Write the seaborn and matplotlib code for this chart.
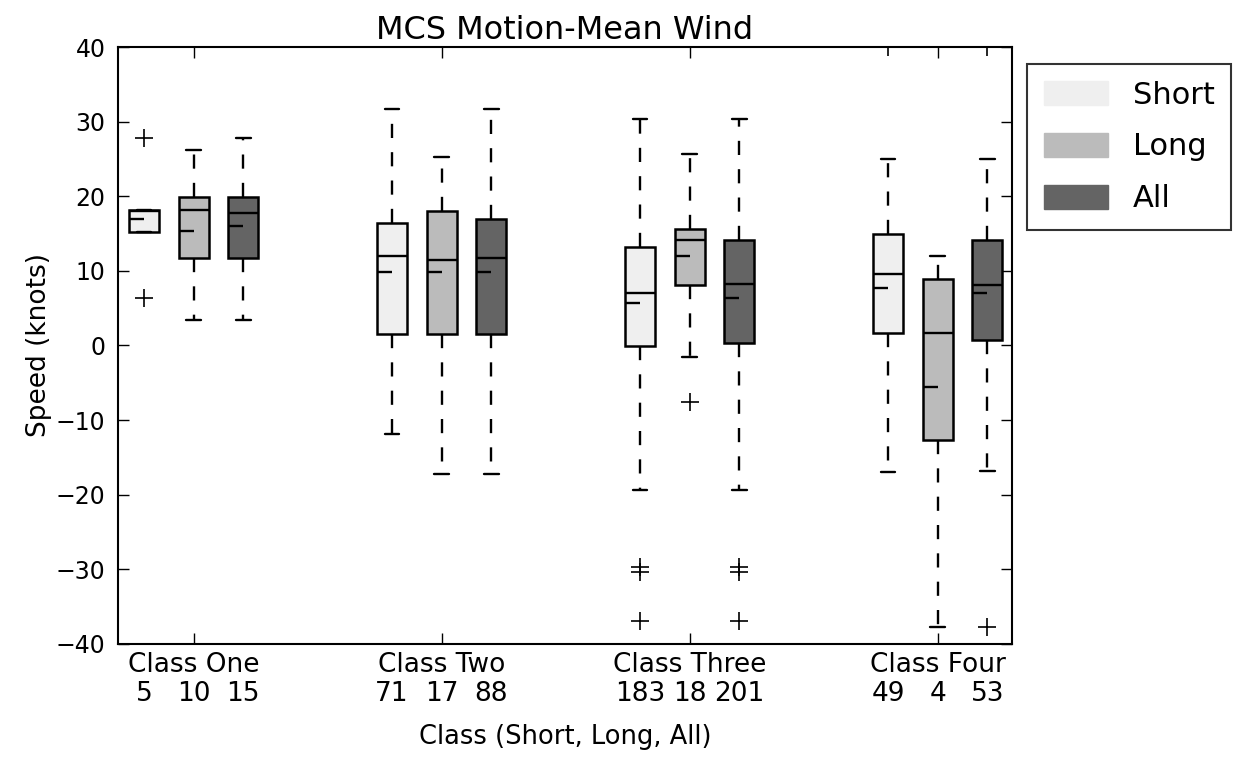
import numpy as np
import matplotlib
matplotlib.use("Agg")
import matplotlib.pyplot as plt
import matplotlib.transforms as mtransforms
from matplotlib.patches import Patch
import seaborn as sns

# ---------------------------
# Data (knots)
# ---------------------------
classes = ["Class One", "Class Two", "Class Three", "Class Four"]
groups = ["Short", "Long", "All"]
colors = ["#efefef", "#bbbbbb", "#646464"]

counts = [[5, 10, 15], [71, 17, 88], [183, 18, 201], [49, 4, 53]]

q1 = [[15.2, 11.7, 11.7], [1.6, 1.6, 1.6], [-0.1, 8.1, 0.3], [1.7, -12.7, 0.7]]
med = [[18.0, 18.1, 17.8], [12.0, 11.4, 11.7], [7.1, 14.2, 8.2], [9.6, 1.7, 8.1]]
q3 = [[18.1, 19.9, 19.9], [16.4, 18.0, 17.0], [13.2, 15.6, 14.1], [15.0, 8.9, 14.1]]
whislo = [[15.2, 3.4, 3.4], [-11.8, -17.2, -17.2], [-19.4, -1.5, -19.4], [-16.9, -37.7, -16.8]]
whishi = [[18.1, 26.2, 27.8], [31.7, 25.3, 31.7], [30.3, 25.7, 30.3], [25.0, 12.0, 25.0]]
means = [[17.0, 15.3, 16.0], [9.9, 9.9, 9.9], [5.7, 12.0, 6.4], [7.7, -5.5, 7.1]]
fliers = [
    [[27.8, 6.3], [], []],
    [[], [], []],
    [[-29.7, -30.4, -36.9], [-7.6], [-29.7, -30.4, -36.9]],
    [[40.0], [], [40.0, -37.7]],
]

# ---------------------------
# Style
# ---------------------------
sns.set_style("ticks")
plt.rcParams["font.family"] = ["DejaVu Sans"]
plt.rcParams["xtick.direction"] = "in"
plt.rcParams["ytick.direction"] = "in"
plt.rcParams["xtick.top"] = True
plt.rcParams["ytick.right"] = True
for k in ["text.color", "axes.labelcolor", "xtick.color", "ytick.color", "axes.edgecolor"]:
    plt.rcParams[k] = "black"

fig = plt.figure(figsize=(12.33, 7.57), dpi=100)
ax = fig.add_axes([0.0957, 0.1493, 0.7251, 0.7886])

centers = np.arange(1, len(classes) + 1)
offsets = [-0.2, 0.0, 0.2]
width = 0.12

for gi, g in enumerate(groups):
    stats = []
    pos = []
    for ci in range(len(classes)):
        stats.append(dict(med=med[ci][gi], q1=q1[ci][gi], q3=q3[ci][gi],
                          whislo=whislo[ci][gi], whishi=whishi[ci][gi],
                          fliers=fliers[ci][gi], label=g))
        pos.append(centers[ci] + offsets[gi])
    ax.bxp(stats, positions=pos, widths=width, patch_artist=True,
           boxprops=dict(facecolor=colors[gi], edgecolor="black", linewidth=1.8),
           medianprops=dict(color="black", linewidth=1.7),
           whiskerprops=dict(color="black", linewidth=1.7, linestyle=(0, (6, 6))),
           capprops=dict(color="black", linewidth=1.7),
           flierprops=dict(marker="+", markersize=13, markeredgewidth=1.2,
                           markeredgecolor="black", linestyle="none"))
    # mean drawn as a short tick from the left edge to the centre of each box
    ax.hlines([means[ci][gi] for ci in range(len(classes))],
              [p - width / 2 for p in pos], pos, color="black", linewidth=1.7, zorder=4)

ax.set_xlim(0.695, 4.30)
ax.set_ylim(-40, 40)
ax.set_xticks(centers)
ax.set_xticklabels(classes, fontsize=19)
ax.tick_params(axis="x", pad=6, length=8, width=1)
ax.tick_params(axis="y", labelsize=17, length=8, width=1, pad=9)
for s in ax.spines.values():
    s.set_linewidth(1.5)

# counts under each box
trans = mtransforms.blended_transform_factory(ax.transData, ax.transAxes)
for ci in range(len(classes)):
    for gi in range(len(groups)):
        ax.text(centers[ci] + offsets[gi], -0.084, str(counts[ci][gi]),
                transform=trans, ha="center", va="center", fontsize=19)

ax.set_title("MCS Motion-Mean Wind", fontsize=23, pad=6)
ax.set_ylabel("Speed (knots)", fontsize=19, labelpad=3)
ax.set_xlabel("Class (Short, Long, All)", fontsize=18.5, labelpad=33)

handles = [Patch(facecolor=c, edgecolor=c, label=g) for g, c in zip(groups, colors)]
leg = ax.legend(handles=handles, loc="upper left", bbox_to_anchor=(1.017, 0.972),
                borderaxespad=0, fontsize=22, frameon=True, fancybox=False,
                handlelength=2.1, handleheight=0.85, handletextpad=0.8,
                labelspacing=0.75, borderpad=0.55)
leg.get_frame().set_edgecolor("black")
leg.get_frame().set_linewidth(1.5)

fig.savefig("out.png", dpi=100)
